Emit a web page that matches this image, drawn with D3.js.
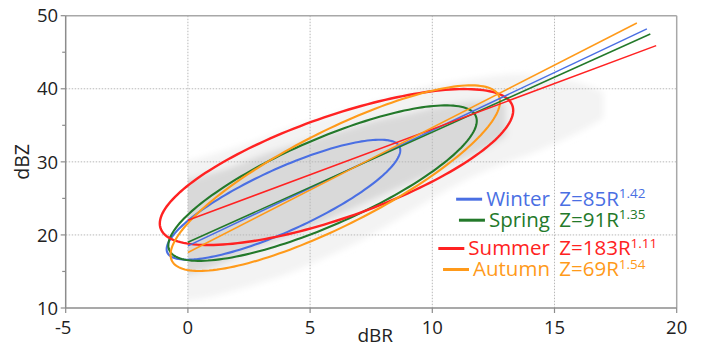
<!DOCTYPE html>
<html><head><meta charset="utf-8">
<script src="https://cdn.jsdelivr.net/npm/d3@7"></script>
<style>
body{margin:0;background:#fff;}
svg{display:block;font-family:"Open Sans","Noto Sans",sans-serif;}
</style></head>
<body>
<svg id="chart" width="703" height="347"></svg>
<script>
// ---------- data ----------
const xTicks = [-5, 0, 5, 10, 15, 20];
const yTicks = [10, 20, 30, 40, 50];
const yMinorTicks = [15, 25, 35, 45];

const seasons = ["Winter", "Spring", "Summer", "Autumn"];
const colors = ["#4a6fe3", "#23792a", "#ff2222", "#ff9a1a"];
const coefA = ["85", "91", "183", "69"];
const expB = ["1.42", "1.35", "1.11", "1.54"];

// fitted lines (dBZ at dBR=0, end point)
const lineStartY = [18.5, 19.0, 22.0, 17.6];
const lineEndX = [18.78, 18.92, 19.16, 18.37];
const lineEndY = [48.2, 47.5, 45.9, 49.0];

// ellipses: center, half-extent in dBR, half-extent in dBZ, correlation
const ellCx = [3.91, 5.51, 6.08, 6.03];
const ellCy = [24.82, 27.09, 29.29, 27.77];
const ellXe = [4.78, 6.31, 7.23, 6.74];
const ellYe = [8.21, 10.64, 10.67, 12.70];
const ellR = [0.825, 0.80, 0.725, 0.825];

// scatter cloud envelope (dBR bins)
const sparseR  = [0, 1, 2, 3, 4, 5, 6, 7, 8, 9, 10, 11, 12, 13, 14, 15, 16, 17];
const sparseLo = [11, 11.5, 12.5, 13.5, 14.5, 16, 17.5, 19, 21, 23, 25, 27, 28.5, 30, 31, 32.5, 34, 36];
const sparseHi = [30, 31, 32, 33, 34.5, 35.5, 36.5, 37.5, 38.5, 39.5, 40.5, 41, 41.5, 42, 42, 41.5, 41, 39.5];
const denseR  = [0, 1, 2, 3, 4, 5, 6, 7, 8, 9, 10, 11, 12, 13];
const denseLo = [14.5, 15.5, 17, 18.5, 19.5, 21, 22.5, 24, 25.5, 27, 28.5, 30, 31.5, 33.5];
const denseHi = [27.5, 28.5, 29.5, 31, 32, 33, 34, 35, 36, 36.5, 37.5, 38, 38.5, 38];

// ---------- layout ----------
const L = 65.7, R = 676.7, T = 15.7, B = 308;
const svg = d3.select("#chart");
const x = d3.scaleLinear().domain([-5, 20]).range([L, R]);
const y = d3.scaleLinear().domain([10, 50]).range([B, T]);

const defs = svg.append("defs");
defs.append("filter").attr("id", "blur").attr("x", "-20%").attr("y", "-20%").attr("width", "140%").attr("height", "140%")
  .append("feGaussianBlur").attr("stdDeviation", 3);
defs.append("clipPath").attr("id", "cloudClip").append("rect")
  .attr("x", x(0)).attr("y", T).attr("width", R - x(0)).attr("height", B - T);

// cloud
const cloud = svg.append("g").attr("clip-path", "url(#cloudClip)").append("g").attr("filter", "url(#blur)");
const sparseData = sparseR.map((r, i) => ({r, lo: sparseLo[i], hi: sparseHi[i]}));
const denseData = denseR.map((r, i) => ({r, lo: denseLo[i], hi: denseHi[i]}));
const area = d3.area().x(d => x(d.r)).y0(d => y(d.lo)).y1(d => y(d.hi)).curve(d3.curveBasis);
const extend = arr => [{r: arr[0].r - 0.6, lo: arr[0].lo, hi: arr[0].hi}, ...arr];
cloud.append("path").attr("d", area(extend(sparseData))).attr("fill", "#f3f3f3");
cloud.append("path").attr("d", area(extend(denseData))).attr("fill", "#d9d9d9");

// grid
const grid = svg.append("g").attr("stroke", "#b8b8b8").attr("stroke-width", 1).attr("stroke-dasharray", "1.5,1.5");
xTicks.slice(1, -1).forEach(v => grid.append("line").attr("x1", x(v)).attr("x2", x(v)).attr("y1", T).attr("y2", B));
yTicks.slice(1, -1).forEach(v => grid.append("line").attr("x1", L).attr("x2", R).attr("y1", y(v)).attr("y2", y(v)));

// frame
svg.append("line").attr("x1", L).attr("x2", R).attr("y1", T).attr("y2", T).attr("stroke", "#a8a8a8").attr("stroke-width", 1.5);
svg.append("line").attr("x1", R).attr("x2", R).attr("y1", T).attr("y2", B).attr("stroke", "#a8a8a8").attr("stroke-width", 1.5);
svg.append("line").attr("x1", L).attr("x2", L).attr("y1", T).attr("y2", B).attr("stroke", "#8c8c8c").attr("stroke-width", 1.5);
svg.append("line").attr("x1", L).attr("x2", R).attr("y1", B).attr("y2", B).attr("stroke", "#8c8c8c").attr("stroke-width", 1.5);

// ticks
const tk = svg.append("g").attr("stroke", "#8c8c8c").attr("stroke-width", 1.2);
yTicks.forEach(v => tk.append("line").attr("x1", L - 5).attr("x2", L).attr("y1", y(v)).attr("y2", y(v)));
yMinorTicks.forEach(v => tk.append("line").attr("x1", L - 3.5).attr("x2", L).attr("y1", y(v)).attr("y2", y(v)));
xTicks.forEach(v => tk.append("line").attr("x1", x(v)).attr("x2", x(v)).attr("y1", B).attr("y2", B + 5));

// tick labels
const tl = svg.append("g").attr("font-size", 18.5).attr("fill", "#222");
yTicks.forEach(v => tl.append("text").attr("x", L - 7.5).attr("y", y(v)).attr("dy", "0.36em").attr("text-anchor", "end").text(v));
xTicks.forEach(v => tl.append("text").attr("x", x(v) - (v < 0 ? 2.5 : 0)).attr("y", B + 25.5).attr("text-anchor", "middle").text(v));

// axis titles
svg.append("text").attr("x", (L + R) / 2 + 4).attr("y", 341.5).attr("text-anchor", "middle").attr("font-size", 19).attr("fill", "#222").text("dBR");
svg.append("text").attr("transform", `translate(29,${(T + B) / 2}) rotate(-90)`).attr("text-anchor", "middle").attr("font-size", 19.5).attr("fill", "#222").text("dBZ");

// ellipses
const tSteps = d3.range(0, 181).map(i => i / 180 * 2 * Math.PI);
const ell = svg.append("g").attr("fill", "none");
seasons.forEach((s, i) => {
  const pts = tSteps.map(t => {
    const dx = ellXe[i] * Math.cos(t);
    const dy = ellYe[i] * (ellR[i] * Math.cos(t) + Math.sqrt(1 - ellR[i] * ellR[i]) * Math.sin(t));
    return [x(ellCx[i] + dx), y(ellCy[i] + dy)];
  });
  ell.append("path").attr("d", d3.line().curve(d3.curveLinearClosed)(pts))
    .attr("stroke", colors[i]).attr("stroke-width", i === 2 ? 2.4 : 2.1);
});

// fitted lines
const ln = svg.append("g");
seasons.forEach((s, i) => {
  ln.append("line").attr("x1", x(0)).attr("y1", y(lineStartY[i])).attr("x2", x(lineEndX[i])).attr("y2", y(lineEndY[i]))
    .attr("stroke", colors[i]).attr("stroke-width", 1.5);
});

// legend
const legBase = [205.7, 226.7, 255, 276];
const lg = svg.append("g").attr("font-size", 20.5);
seasons.forEach((s, i) => {
  const t = lg.append("text").attr("x", 550).attr("y", legBase[i]).attr("text-anchor", "end").attr("fill", colors[i]).text(s);
  const w = t.node().getComputedTextLength();
  const x0 = 550 - w - 4;
  lg.append("line").attr("x1", x0 - 26).attr("x2", x0).attr("y1", legBase[i] - 6.5).attr("y2", legBase[i] - 6.5)
    .attr("stroke", colors[i]).attr("stroke-width", 3);
  const f = lg.append("text").attr("x", 559.3).attr("y", legBase[i]).attr("fill", colors[i]);
  f.append("tspan").text("Z=" + coefA[i] + "R");
  f.append("tspan").attr("font-size", 13.5).attr("dy", -7.5).text(expB[i]);
});
</script>
</body></html>
